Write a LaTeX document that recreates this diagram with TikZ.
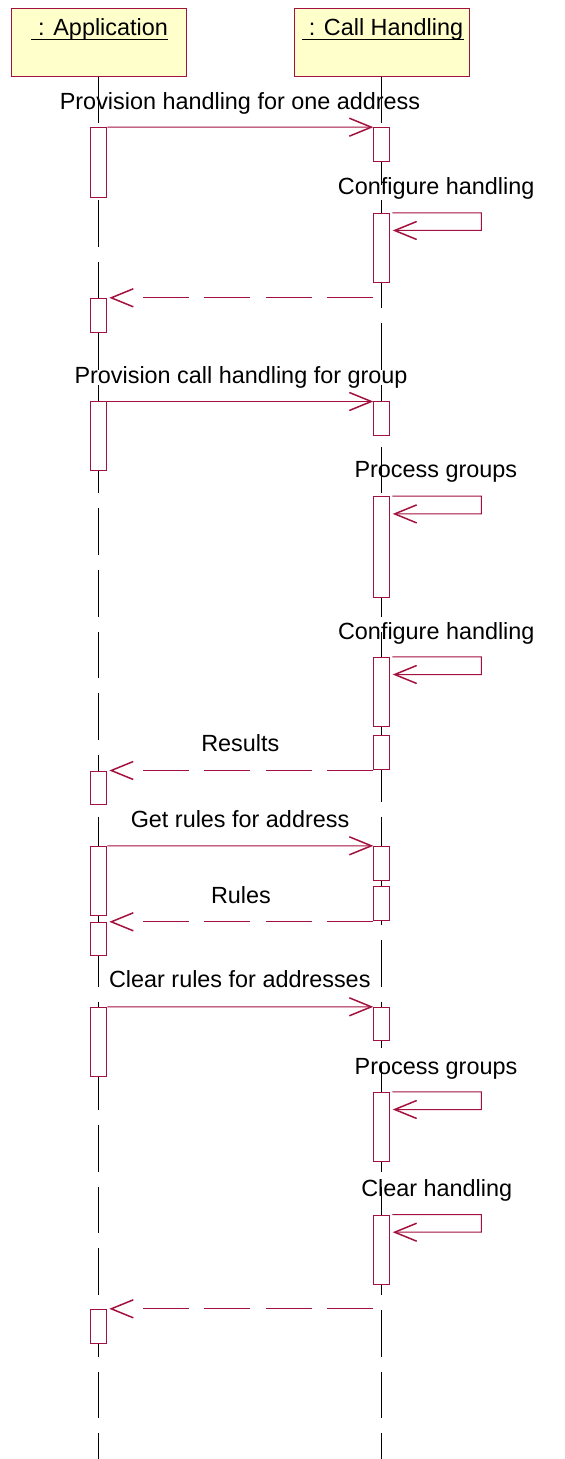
\documentclass[tikz,border=0pt]{standalone}
\usepackage{fontspec}
\setmainfont{Liberation Sans}
\usepackage{tikz}
\usetikzlibrary{arrows.meta, positioning}

\definecolor{umlred}{HTML}{A3123F}
\definecolor{umlyellow}{HTML}{FFFFCC}

\begin{document}
\begin{tikzpicture}[
    x=0.5pt, y=-0.5pt,
    >={Straight Barb[length=11pt, width=9pt, line width=0.75pt]},
    font=\fontsize{11.7pt}{14pt}\selectfont,
    % Object boxes
    obj/.style={
        rectangle, draw=umlred, fill=umlyellow, line width=0.5pt,
        minimum width=87.75pt, minimum height=34pt, inner sep=0pt
    },
    % Object names (underlined by hand)
    objname/.style={anchor=base, inner sep=0pt},
    % Activation bars
    act/.style={
        rectangle, draw=umlred, fill=white, line width=0.5pt,
        minimum width=8pt, inner sep=0pt
    },
    % Message labels
    lbl/.style={anchor=base, inner sep=0pt},
    % Lifeline
    lifeline/.style={black, line width=0.5pt, dash pattern=on 23.33pt off 7.5pt},
    % Call arrow
    msg/.style={->, umlred, line width=0.5pt},
    % Return arrow
    darr/.style={->, umlred, line width=0.5pt,
        dash pattern=on 23.15pt off 7.6pt on 23.15pt off 7.6pt on 23.15pt off 7.6pt on 23.15pt off 30pt},
    % Self call
    selfarr/.style={->, umlred, line width=0.5pt},
]
\useasboundingbox (0,0) rectangle (564,1459);

% ===== OBJECTS =====
\node[obj] (app) at (98.8,42.3) {};
\node[obj] (call) at (381.8,42.3) {};

\node[objname] (appname) at (99.8,36) {\ : Application};
\node[objname] (callname) at (382.7,36) {\ : Call Handling};
\draw[line width=0.65pt] ([yshift=-1.65pt]appname.base west) -- ([yshift=-1.65pt]appname.base east);
\draw[line width=0.65pt] ([yshift=-1.65pt]callname.base west) -- ([yshift=-1.65pt]callname.base east);

% ===== LIFELINES =====
\coordinate (bottom) at (0,1459);
\draw[lifeline] (app.south) -- (app.south |- bottom);
\draw[lifeline] (call.south) -- (call.south |- bottom);

% ===== ACTIVATIONS =====
\node[act, minimum height=34.8pt] (a1) at (98.8,162.5) {};
\node[act, minimum height=17pt] (a2) at (98.8,315.3) {};
\node[act, minimum height=34.35pt] (a3) at (98.8,436.35) {};
\node[act, minimum height=16.65pt] (a4) at (98.8,787.65) {};
\node[act, minimum height=34.7pt] (a5) at (98.8,881) {};
\node[act, minimum height=16.7pt] (a6) at (98.8,939) {};
\node[act, minimum height=34.35pt] (a7) at (98.8,1041.65) {};
\node[act, minimum height=17pt] (a8) at (98.8,1326.3) {};

\node[act, minimum height=17pt] (c1) at (381.8,144.7) {};
\node[act, minimum height=34.5pt] (c2) at (381.8,247.8) {};
\node[act, minimum height=17pt] (c3) at (381.8,419) {};
\node[act, minimum height=50.3pt] (c4) at (381.8,547) {};
\node[act, minimum height=34.6pt] (c5) at (381.8,691.9) {};
\node[act, minimum height=16.65pt] (c6) at (381.8,752.35) {};
\node[act, minimum height=16.85pt] (c7) at (381.8,863.15) {};
\node[act, minimum height=17pt] (c8) at (381.8,903.7) {};
\node[act, minimum height=16.7pt] (c9) at (381.8,1024) {};
\node[act, minimum height=34.35pt] (c10) at (381.8,1126.65) {};
\node[act, minimum height=34.65pt] (c11) at (381.8,1249.65) {};

% ===== PROVISION ONE ADDRESS =====
\node[lbl] (m1) at (240,109.3) {Provision handling for one address};
\draw[msg] (a1.north east) -- (c1.north west);

\node[lbl] (s1) at (436.2,194.3) {Configure handling};
\draw[selfarr] ([xshift=1pt]c2.north east) -- ++(89,0) -- ++(0,17.7)
    -- ([xshift=1.2pt,yshift=-8.85pt]c2.north east);

\draw[darr] (c1.west |- a2.north) -- ([xshift=1pt]a2.north east);

% ===== PROVISION GROUP =====
\node[lbl] (m2) at (241,383.3) {Provision call handling for group};
\draw[msg] (a3.north east) -- (c3.north west);

\node[lbl] (s2) at (435.8,477.7) {Process groups};
\draw[selfarr] ([xshift=1pt]c4.north east) -- ++(89,0) -- ++(0,17.7)
    -- ([xshift=1.2pt,yshift=-8.85pt]c4.north east);

\node[lbl] (s3) at (436.3,639.3) {Configure handling};
\draw[selfarr] ([xshift=1pt]c5.north east) -- ++(89,0) -- ++(0,17.7)
    -- ([xshift=1.2pt,yshift=-8.85pt]c5.north east);

\node[lbl] (r2) at (240.3,751.7) {Results};
\draw[darr] (c6.west |- a4.north) -- ([xshift=1pt]a4.north east);

% ===== GET RULES =====
\node[lbl] (m3) at (240,827.7) {Get rules for address};
\draw[msg] (a5.north east) -- (c7.north west);

\node[lbl] (r3) at (241,903.3) {Rules};
\draw[darr] (c8.west |- a6.north) -- ([xshift=1pt]a6.north east);

% ===== CLEAR RULES =====
\node[lbl] (m4) at (239.8,987.3) {Clear rules for addresses};
\draw[msg] (a7.north east) -- (c9.north west);

\node[lbl] (s4) at (436,1074.3) {Process groups};
\draw[selfarr] ([xshift=1pt]c10.north east) -- ++(89,0) -- ++(0,17.7)
    -- ([xshift=1.2pt,yshift=-8.85pt]c10.north east);

\node[lbl] (s5) at (436.7,1196) {Clear handling};
\draw[selfarr] ([xshift=1pt]c11.north east) -- ++(89,0) -- ++(0,17.7)
    -- ([xshift=1.2pt,yshift=-8.85pt]c11.north east);

\draw[darr] (c1.west |- a8.north) -- ([xshift=1pt]a8.north east);

\end{tikzpicture}
\end{document}
